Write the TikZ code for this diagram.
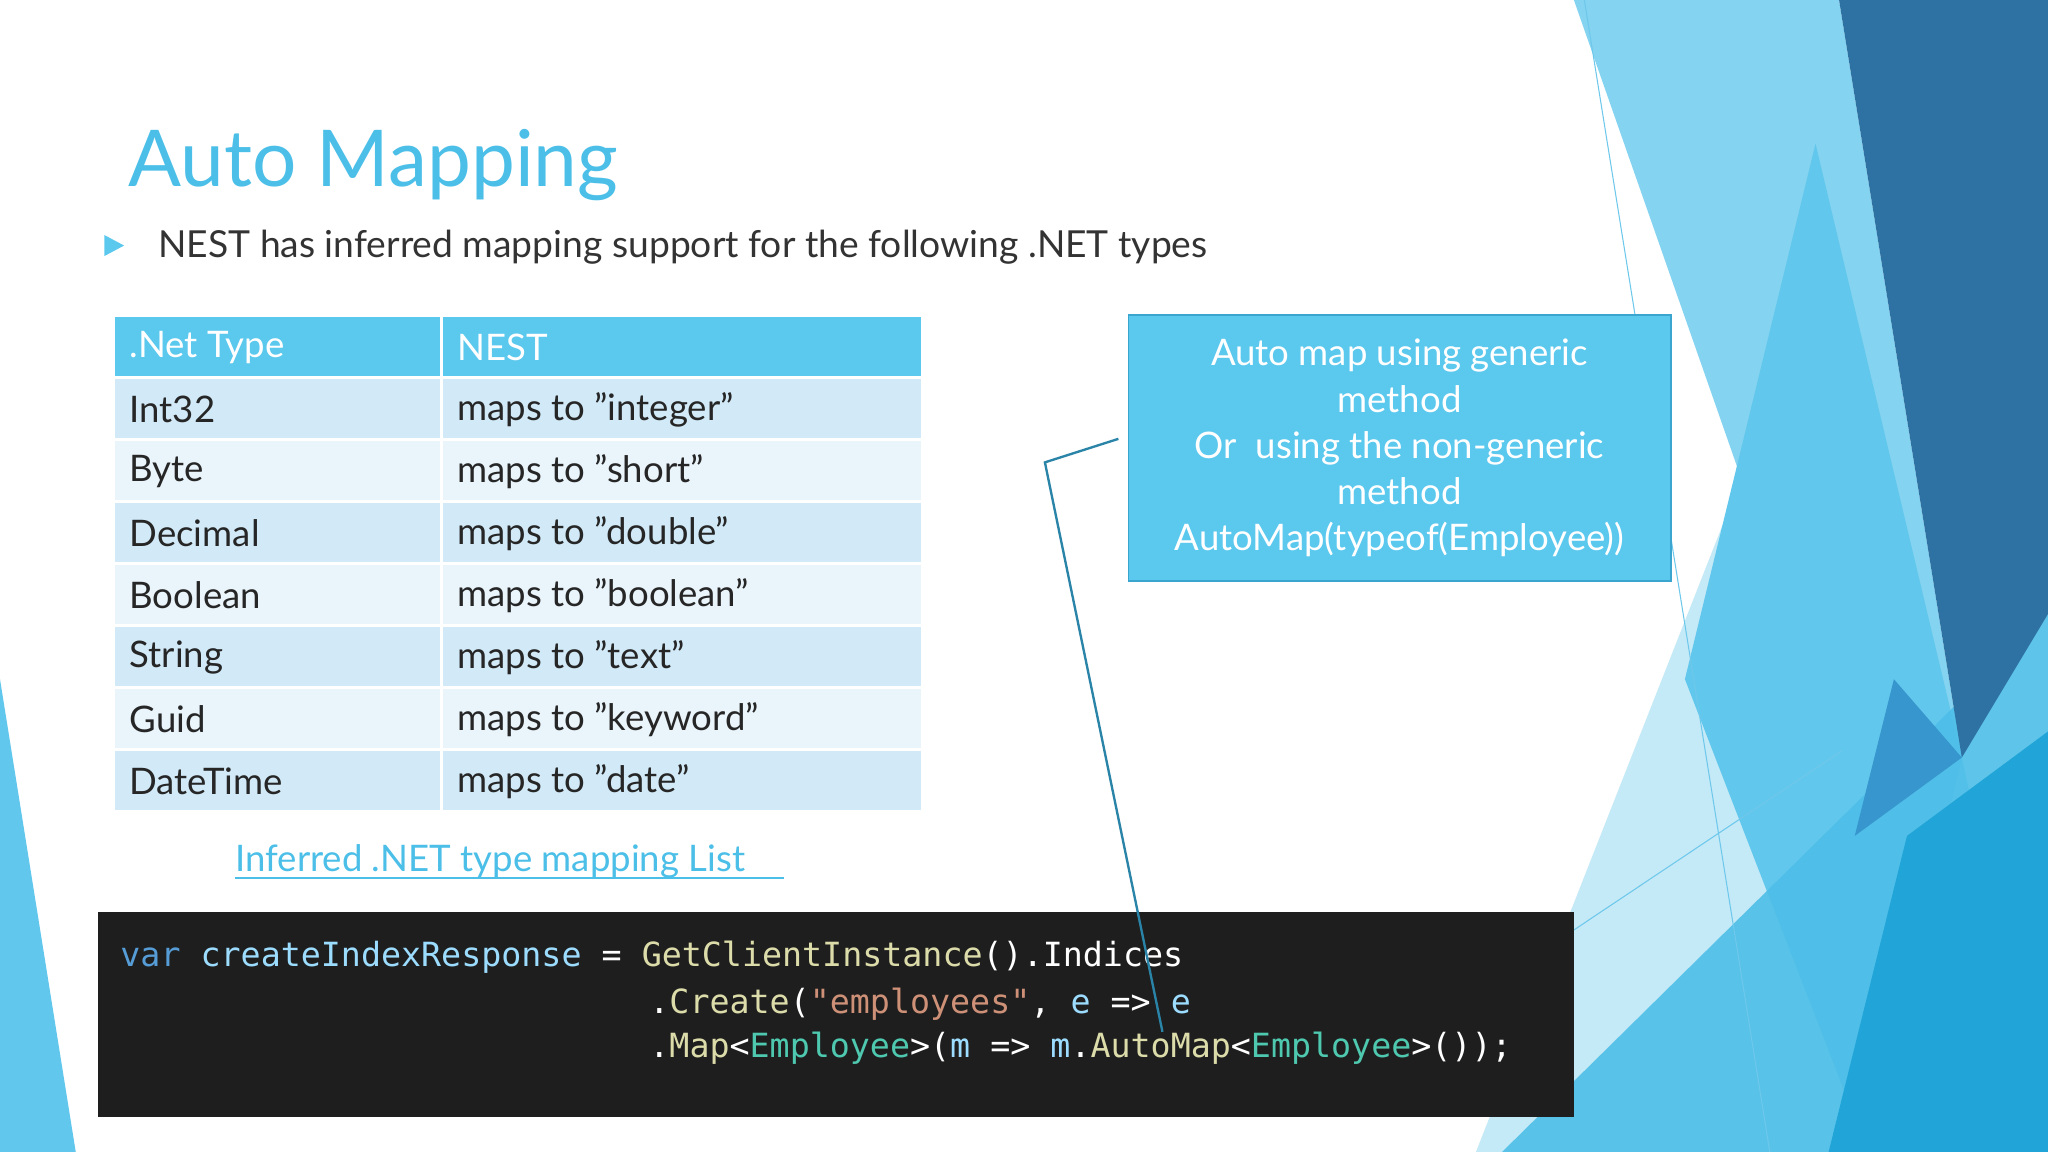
\documentclass[tikz,border=0pt]{standalone}
\usepackage{fontspec}
\setmainfont{Lato}
\setmonofont{DejaVu Sans Mono}
\begin{document}
\begin{tikzpicture}[x=1pt,y=-1pt,
  cell/.style={anchor=west,inner sep=0pt,font=\fontsize{28}{30}\selectfont,text=black!85},
  hcell/.style={anchor=west,inner sep=0pt,font=\fontsize{28}{30}\selectfont,text=white},
  code/.style={anchor=base west,inner sep=0pt,font=\ttfamily\fontsize{25.5}{28}\selectfont}]
\definecolor{hdr}{HTML}{5BC8EE}
\definecolor{rowa}{HTML}{D2EAF8}
\definecolor{rowb}{HTML}{E9F4FB}
\definecolor{kw}{HTML}{569CD6}
\definecolor{idn}{HTML}{9CDCFE}
\definecolor{fn}{HTML}{DCDCAA}
\definecolor{str}{HTML}{CE9178}
\definecolor{typ}{HTML}{4EC9B0}
\definecolor{ttl}{HTML}{4BBFE8}
\useasboundingbox (0,0) rectangle (1568,882);
\fill[white] (0,0) rectangle (1568,882);
% right decoration
\fill[color={rgb,255:red,132;green,211;blue,240}] (1205,0) -- (1408,0) -- (1502,580) -- (1568,882) -- (1330,882) -- (1333,366) -- cycle;
\fill[color={rgb,255:red,196;green,233;blue,247}] (1333,366) -- (1460,882) -- (1130,882) -- cycle;
\fill[color={rgb,255:red,98;green,199;blue,236}] (1390,110) -- (1502,580) -- (1430,882) -- (1290,520) -- cycle;
\fill[color={rgb,255:red,77;green,190;blue,232},opacity=0.9] (1150,882) -- (1568,470) -- (1568,882) -- cycle;
\fill[color={rgb,255:red,45;green,114;blue,163}] (1408,0) -- (1568,0) -- (1568,470) -- (1502,580) -- cycle;
\fill[color={rgb,255:red,55;green,150;blue,205}] (1502,580) -- (1450,520) -- (1420,640) -- cycle;
\fill[color={rgb,255:red,33;green,165;blue,216}] (1400,882) -- (1460,640) -- (1568,560) -- (1568,882) -- cycle;
\draw[color={rgb,255:red,110;green,200;blue,235},line width=0.8pt] (1213,0) -- (1355,882);
\draw[color={rgb,255:red,110;green,200;blue,235},line width=0.8pt] (1205,712) -- (1410,575);
\fill[color={rgb,255:red,98;green,199;blue,236}] (0,520) -- (58,882) -- (0,882) -- cycle;
% title
\node[anchor=base west,inner sep=0pt,text=ttl,font=\fontsize{60}{64}\selectfont] (title) at (98,143) {Auto Mapping};
\fill[hdr] (80,180) -- (95,188) -- (80,196) -- cycle;
\node[anchor=base west,inner sep=0pt,text=black!80,font=\fontsize{28.5}{30}\selectfont] (sub) at (121,197) {NEST has inferred mapping support for the following .NET types};
% table
\fill[hdr] (88,243) rectangle (705,288);
\draw[white,line width=2pt] (338,243) -- (338,288);
\node[hcell] (h1) at (99,266) {.Net Type};
\node[hcell] (h2) at (350,266) {NEST};
\foreach \i/\a/\b in {0/Int32/integer,1/Byte/short,2/Decimal/double,3/Boolean/boolean,4/String/text,5/Guid/keyword,6/DateTime/date}{
  \pgfmathsetmacro{\yt}{290+47.5*\i}
  \pgfmathtruncatemacro{\odd}{mod(\i,2)}
  \ifnum\odd=0 \fill[rowa] (88,\yt) rectangle (705,\yt+45.5); \else \fill[rowb] (88,\yt) rectangle (705,\yt+45.5); \fi
  \draw[white,line width=2pt] (338,\yt) -- (338,\yt+45.5);
  \node[cell] (a\i) at (99,\yt+23.5) {\a};
  \node[cell] (b\i) at (350,\yt+23.5) {maps to "\b"};
}
\node[anchor=base west,inner sep=0pt,text=ttl,font=\fontsize{28}{30}\selectfont] (link) at (180,667) {Inferred .NET type mapping List};
\draw[ttl,line width=1.2pt] (180,672) -- (600,672);
% code
\fill[color={rgb,255:red,30;green,30;blue,30}] (75,698) rectangle (1205,855);
\node[code] (c1) at (92,740) {\textcolor{kw}{var} \textcolor{idn}{createIndexResponse} \textcolor{white}{=} \textcolor{fn}{GetClientInstance}\textcolor{white!88}{().Indices}};
\node[code] (c2) at (497,776) {\textcolor{white!88}{.}\textcolor{fn}{Create}\textcolor{white!88}{(}\textcolor{str}{"employees"}\textcolor{white!88}{,} \textcolor{idn}{e} \textcolor{white!88}{=>} \textcolor{idn}{e}};
\node[code] (c3) at (497,810) {\textcolor{white!88}{.}\textcolor{fn}{Map}\textcolor{white!88}{<}\textcolor{typ}{Employee}\textcolor{white!88}{>(}\textcolor{idn}{m} \textcolor{white!88}{=>} \textcolor{idn}{m}\textcolor{white!88}{.}\textcolor{fn}{AutoMap}\textcolor{white!88}{<}\textcolor{typ}{Employee}\textcolor{white!88}{>());}};
% callout
\node[draw={rgb,255:red,58;green,166;blue,208},line width=1.5pt,fill=hdr,minimum width=415pt,minimum height=204pt,inner sep=0pt,
  text=white,align=center,font=\fontsize{28}{35.3}\selectfont] (call) at (1071.5,343)
  {Auto map using generic\\method\\Or\ \ using the non-generic\\method\\AutoMap(typeof(Employee))};
\coordinate (bend) at (800,354);
\coordinate (tip) at (890,790);
\draw[color={rgb,255:red,42;green,132;blue,168},line width=1.8pt] ([xshift=-7pt,yshift=7pt]call.west) -- (bend) -- (tip);
\end{tikzpicture}
\end{document}
